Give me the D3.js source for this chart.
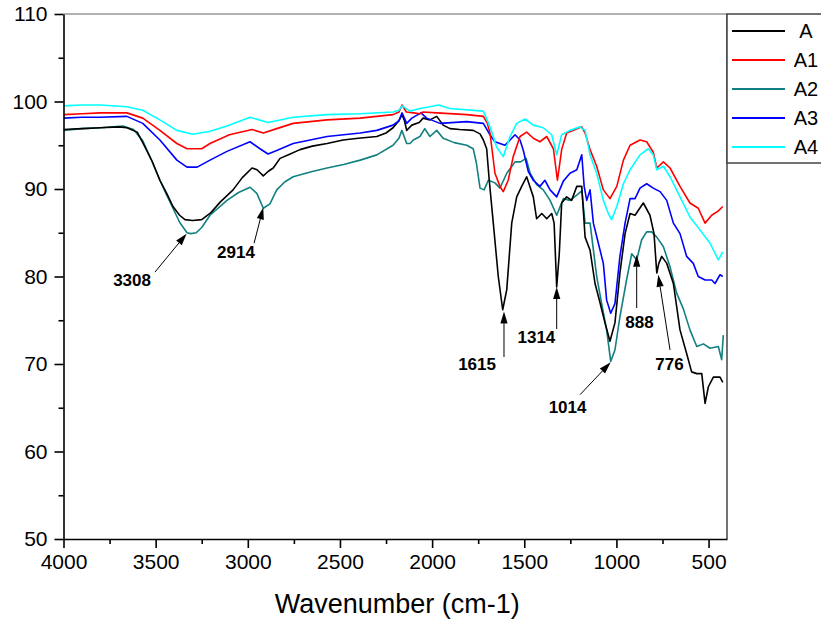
<!DOCTYPE html>
<html>
<head>
<meta charset="utf-8">
<script src="https://cdn.jsdelivr.net/npm/d3@7"></script>
<style>
html,body{margin:0;padding:0;background:#fff;}
svg{display:block;font-family:"Liberation Sans",Arial,Helvetica,sans-serif;}
</style>
</head>
<body>
<svg id="chart" width="821" height="625"></svg>
<script>
// ---- Data (wavenumber cm-1, transmittance %) ----
const seriesNames = ["A", "A1", "A2", "A3", "A4"];
const seriesColors = ["#000000", "#ff0000", "#138080", "#0000ff", "#00ffff"];

const dataA = [[4000,96.8],[3900,96.9],[3800,97.0],[3700,97.1],[3656,97.0],[3600,96.5],[3570,95.3],[3520,93.2],[3477,91.0],[3440,89.5],[3406,88.0],[3370,87.0],[3341,86.5],[3300,86.4],[3250,86.5],[3200,87.3],[3150,88.5],[3080,89.9],[3030,91.3],[2977,92.4],[2950,92.2],[2916,91.5],[2890,92.0],[2862,92.4],[2825,93.5],[2770,94.0],[2717,94.5],[2650,94.9],[2570,95.2],[2483,95.6],[2400,95.8],[2300,96.0],[2250,96.4],[2212,97.0],[2180,97.8],[2163,98.5],[2150,97.8],[2138,96.7],[2110,97.3],[2070,97.6],[2049,98.1],[2012,97.9],[1975,98.3],[1940,97.3],[1903,96.9],[1850,96.8],[1777,96.7],[1740,96.3],[1722,95.6],[1704,94.6],[1690,91.0],[1668,86.1],[1641,80.0],[1617,76.2],[1595,78.5],[1568,86.1],[1541,89.1],[1514,90.3],[1487,91.4],[1451,89.1],[1433,86.6],[1405,87.2],[1378,86.6],[1351,87.2],[1338,86.1],[1324,78.8],[1310,82.6],[1297,88.4],[1270,89.1],[1243,88.7],[1215,90.3],[1188,90.3],[1170,84.5],[1143,83.0],[1116,79.2],[1089,77.0],[1062,74.7],[1035,72.6],[1008,74.7],[981,80.4],[953,84.9],[926,87.2],[899,87.0],[854,88.4],[818,87.0],[796,84.9],[781,80.4],[770,81.5],[754,82.3],[727,81.5],[691,79.2],[655,73.9],[619,71.2],[592,69.1],[564,68.9],[537,68.9],[519,65.5],[501,67.4],[474,68.5],[438,68.5],[423,67.9]];

const dataA1 = [[4000,98.5],[3900,98.6],[3800,98.7],[3700,98.7],[3656,98.7],[3570,98.1],[3477,96.7],[3385,95.2],[3330,94.6],[3250,94.6],[3205,95.2],[3100,96.2],[2977,96.8],[2916,96.4],[2843,96.9],[2754,97.5],[2570,97.9],[2390,98.1],[2212,98.5],[2180,98.8],[2163,99.6],[2140,98.8],[2100,98.7],[2066,98.6],[2049,98.8],[1975,98.7],[1812,98.5],[1722,98.3],[1700,97.5],[1686,96.4],[1659,91.8],[1632,90.3],[1614,89.7],[1587,91.0],[1560,93.7],[1523,96.0],[1487,96.5],[1451,95.8],[1415,95.4],[1378,96.0],[1342,94.6],[1320,91.0],[1297,94.5],[1270,96.4],[1233,96.7],[1188,97.1],[1170,96.4],[1143,94.5],[1107,92.6],[1071,89.9],[1035,88.9],[998,90.3],[962,93.3],[926,95.0],[872,95.6],[836,95.4],[800,94.2],[781,92.4],[745,93.1],[709,92.4],[655,90.3],[601,88.4],[556,87.8],[519,86.1],[483,87.0],[447,87.5],[423,88.0]];

const dataA2 = [[4000,96.7],[3900,96.9],[3800,97.0],[3677,97.2],[3620,96.8],[3570,95.5],[3520,93.2],[3477,91.0],[3440,89.3],[3406,87.8],[3370,86.2],[3330,85.0],[3308,84.9],[3280,85.0],[3250,85.6],[3205,87.0],[3113,88.7],[3050,89.6],[2988,90.2],[2951,89.5],[2916,87.8],[2880,88.3],[2843,89.9],[2800,90.8],[2754,91.4],[2650,92.0],[2570,92.4],[2480,92.8],[2390,93.3],[2300,93.9],[2212,95.0],[2180,95.8],[2164,96.7],[2138,95.2],[2120,95.2],[2102,95.6],[2066,96.0],[2040,96.9],[2012,96.0],[1975,96.7],[1940,95.8],[1880,95.3],[1812,95.0],[1777,94.6],[1760,93.0],[1740,90.1],[1718,89.9],[1695,91.0],[1659,90.7],[1632,90.1],[1595,91.8],[1550,93.1],[1520,93.1],[1490,93.5],[1468,91.8],[1433,90.5],[1397,89.9],[1360,88.7],[1324,87.0],[1288,88.9],[1252,88.7],[1215,89.3],[1188,89.8],[1170,86.1],[1143,86.1],[1107,80.0],[1080,76.9],[1053,73.9],[1031,70.3],[1008,71.6],[981,75.4],[945,79.6],[917,82.6],[890,81.9],[863,84.2],[836,85.1],[809,85.1],[781,84.5],[745,83.4],[709,81.1],[673,78.1],[637,76.3],[601,73.9],[564,72.0],[528,72.3],[492,71.8],[447,72.0],[429,70.5],[420,73.3]];

const dataA3 = [[4000,98.1],[3900,98.2],[3800,98.2],[3656,98.3],[3570,97.5],[3477,95.6],[3385,93.3],[3330,92.5],[3275,92.5],[3205,93.3],[3113,94.3],[2988,95.4],[2934,94.6],[2890,94.0],[2843,94.4],[2754,95.2],[2570,96.0],[2390,96.4],[2300,96.7],[2212,97.3],[2180,97.8],[2163,98.7],[2138,97.5],[2110,98.1],[2060,98.7],[2030,98.1],[1957,97.5],[1812,97.7],[1722,97.5],[1686,96.2],[1659,95.4],[1632,95.2],[1605,95.0],[1577,95.6],[1550,96.2],[1523,95.6],[1505,94.4],[1478,92.0],[1451,91.0],[1415,90.3],[1388,91.0],[1360,89.9],[1324,89.1],[1288,90.9],[1252,91.8],[1215,92.2],[1188,93.9],[1175,90.3],[1161,88.7],[1143,89.9],[1125,86.1],[1098,83.8],[1071,81.5],[1053,77.3],[1031,75.8],[1008,76.9],[981,82.3],[953,86.1],[926,88.9],[899,88.9],[872,90.1],[836,90.6],[800,90.1],[763,89.7],[727,88.7],[691,86.1],[655,84.9],[619,82.3],[583,81.5],[556,80.0],[519,79.6],[483,79.6],[465,79.2],[438,80.2],[423,80.0]];

const dataA4 = [[4000,99.5],[3900,99.6],[3800,99.6],[3656,99.4],[3570,99.0],[3477,97.9],[3385,96.7],[3297,96.25],[3205,96.6],[3113,97.2],[2988,98.2],[2890,97.6],[2754,98.2],[2570,98.5],[2390,98.6],[2212,98.8],[2180,99.0],[2163,99.5],[2120,98.9],[2066,99.2],[2012,99.4],[1966,99.6],[1903,99.2],[1722,98.9],[1686,97.1],[1650,94.8],[1614,93.7],[1577,96.0],[1541,97.5],[1496,98.0],[1451,97.3],[1397,97.0],[1351,96.2],[1324,93.9],[1297,96.2],[1252,96.7],[1197,97.1],[1170,96.7],[1143,93.9],[1107,91.8],[1071,88.7],[1044,87.2],[1026,86.5],[998,88.0],[962,90.6],[926,92.2],[872,93.9],[827,94.6],[800,93.9],[781,92.2],[745,92.6],[709,91.4],[655,89.1],[601,86.8],[546,85.3],[492,83.8],[447,81.9],[423,82.8]];

const seriesData = [dataA, dataA1, dataA2, dataA3, dataA4];

const xTicks = [4000, 3500, 3000, 2500, 2000, 1500, 1000, 500];
const xMinorTicks = [3750, 3250, 2750, 2250, 1750, 1250, 750];
const yTicks = [50, 60, 70, 80, 90, 100, 110];
const yMinorTicks = [55, 65, 75, 85, 95, 105];

// annotations: label, arrow head (w,v), arrow tail (w,v), text anchor (w,v)
const annoLabels = ["3308", "2914", "1615", "1314", "1014", "888", "776"];
const annoHead = [[3332,84.9],[2916,87.9],[1610,76.0],[1324,78.8],[1031,70.2],[890,82.5],[773,80.2]];
const annoTail = [[3504,80.5],[2966,83.8],[1610,70.8],[1324,74.0],[1197,66.5],[890,76.4],[709,71.6]];
const annoText = [[3628,78.9],[3064,82.1],[1756,69.3],[1434,72.4],[1265,64.4],[875,74.1],[712,69.3]];

// ---- Layout ----
const L = 63.5, R = 727, T = 14, B = 539;
const svg = d3.select("#chart");
const x = d3.scaleLinear().domain([4000, 400]).range([L, R]);
const y = d3.scaleLinear().domain([50, 110]).range([B, T]);

svg.append("defs").append("clipPath").attr("id", "clip")
  .append("rect").attr("x", L).attr("y", T).attr("width", R - L).attr("height", B - T);

// frame top/right
svg.append("line").attr("x1", L).attr("x2", R).attr("y1", T).attr("y2", T)
  .attr("stroke", "#666").attr("stroke-width", 1.2);
svg.append("line").attr("x1", R).attr("x2", R).attr("y1", T).attr("y2", B)
  .attr("stroke", "#444").attr("stroke-width", 1.5);

// curves
const line = d3.line().x(d => x(d[0])).y(d => y(d[1]));
const gCurves = svg.append("g").attr("clip-path", "url(#clip)");
// draw order: teal, black, blue, red, cyan  (approximate stacking)
const order = [2, 0, 3, 1, 4];
order.forEach(i => {
  gCurves.append("path").datum(seriesData[i]).attr("d", line)
    .attr("fill", "none").attr("stroke", seriesColors[i])
    .attr("stroke-width", 1.6).attr("stroke-linejoin", "round");
});

// axes
const xAxis = svg.append("g").attr("transform", `translate(0,${B})`)
  .call(d3.axisBottom(x).tickValues(xTicks).tickSize(9).tickSizeOuter(0).tickPadding(6).tickFormat(d3.format("d")));
const xMinor = svg.append("g").attr("transform", `translate(0,${B})`)
  .call(d3.axisBottom(x).tickValues(xMinorTicks).tickSize(5).tickSizeOuter(0).tickFormat(""));
const yAxis = svg.append("g").attr("transform", `translate(${L},0)`)
  .call(d3.axisLeft(y).tickValues(yTicks).tickSize(9).tickSizeOuter(0).tickPadding(7).tickFormat(d3.format("d")));
const yMinor = svg.append("g").attr("transform", `translate(${L},0)`)
  .call(d3.axisLeft(y).tickValues(yMinorTicks).tickSize(5).tickSizeOuter(0).tickFormat(""));

[xAxis, xMinor, yAxis, yMinor].forEach(g => {
  g.select(".domain").attr("stroke", "#000").attr("stroke-width", 1.6);
  g.selectAll(".tick line").attr("stroke", "#000").attr("stroke-width", 1.6);
  g.selectAll("text").attr("font-family", "'Liberation Sans',Arial,sans-serif")
    .attr("font-size", 21).attr("fill", "#000");
});
xMinor.select(".domain").remove();
yMinor.select(".domain").remove();
xAxis.selectAll("text").attr("dy", "0.71em");

// axis title
svg.append("text").attr("x", (L + R) / 2 + 2).attr("y", 613)
  .attr("text-anchor", "middle").attr("font-size", 27).attr("fill", "#000")
  .text("Wavenumber (cm-1)");

// annotations
annoLabels.forEach((lab, i) => {
  const hx = x(annoHead[i][0]), hy = y(annoHead[i][1]);
  const tx = x(annoTail[i][0]), ty = y(annoTail[i][1]);
  const ang = Math.atan2(hy - ty, hx - tx);
  const len = 12, hw = 3.6;
  const bx = hx - len * Math.cos(ang), by = hy - len * Math.sin(ang);
  svg.append("line").attr("x1", tx).attr("y1", ty).attr("x2", bx).attr("y2", by)
    .attr("stroke", "#000").attr("stroke-width", 1);
  const p1 = [bx + hw * Math.sin(ang), by - hw * Math.cos(ang)];
  const p2 = [bx - hw * Math.sin(ang), by + hw * Math.cos(ang)];
  svg.append("path").attr("d", `M${hx},${hy}L${p1[0]},${p1[1]}L${p2[0]},${p2[1]}Z`).attr("fill", "#000");
  svg.append("text").attr("x", x(annoText[i][0])).attr("y", y(annoText[i][1]))
    .attr("text-anchor", "middle").attr("font-size", 17).attr("font-weight", "bold")
    .attr("fill", "#000").text(lab);
});

// legend
const lg = svg.append("g");
lg.append("rect").attr("x", R).attr("y", T).attr("width", 120).attr("height", 149)
  .attr("fill", "#fff").attr("stroke", "#444").attr("stroke-width", 1.5);
const legY = [31, 60, 89, 118, 147];
seriesNames.forEach((n, i) => {
  lg.append("line").attr("x1", 732).attr("x2", 785).attr("y1", legY[i]).attr("y2", legY[i])
    .attr("stroke", seriesColors[i]).attr("stroke-width", 2);
  lg.append("text").attr("x", 806).attr("y", legY[i] + 7).attr("text-anchor", "middle")
    .attr("font-size", 20).attr("fill", "#000").text(n);
});
</script>
</body>
</html>
